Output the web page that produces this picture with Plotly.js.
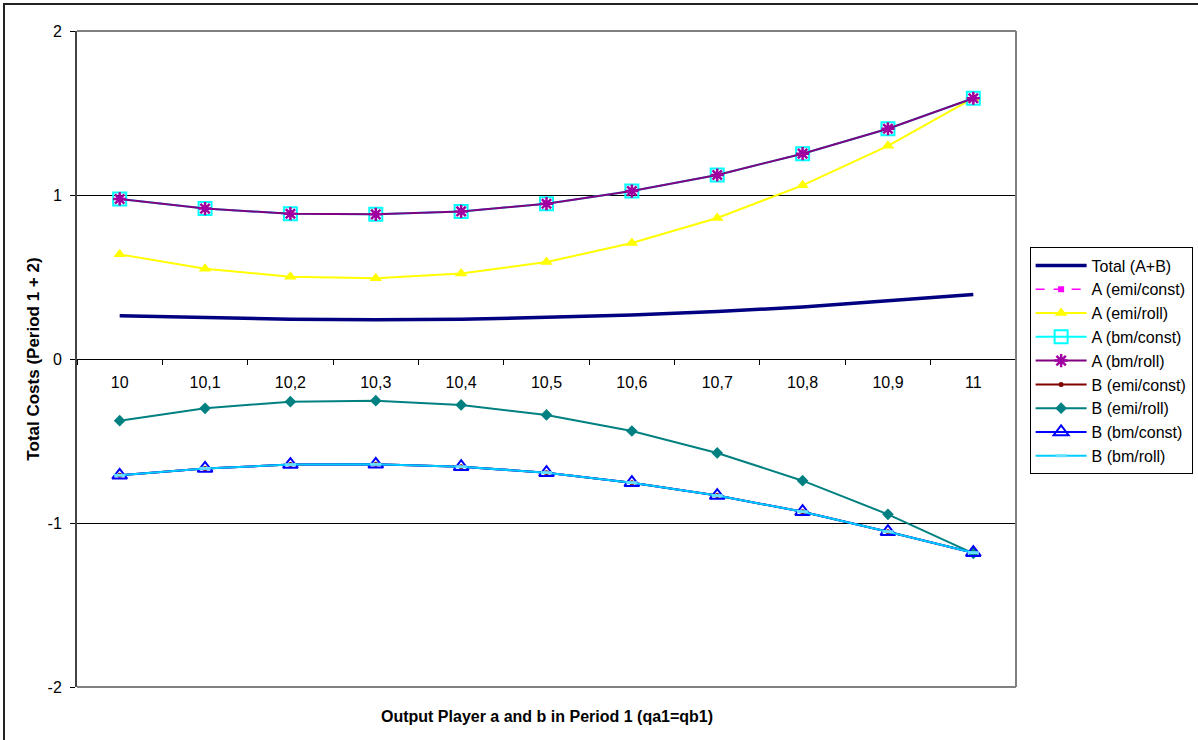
<!DOCTYPE html>
<html>
<head>
<meta charset="utf-8">
<script src="https://cdn.plot.ly/plotly-3.0.1.min.js"></script>
<style>
  body { margin: 0; background: #fff; }
  #wrap { position: relative; width: 1198px; height: 740px; }
  #chart { width: 1198px; height: 740px; }
  #frame { position: absolute; left: 3px; top: 3px; width: 1200px; height: 740px;
           border-left: 2px solid #222; border-top: 2px solid #222; pointer-events: none; }
</style>
</head>
<body>
<div id="wrap"><div id="chart"></div><div id="frame"></div></div>
<script>
const categories = ["10", "10,1", "10,2", "10,3", "10,4", "10,5", "10,6", "10,7", "10,8", "10,9", "11"];

const totalAB   = [0.264, 0.252, 0.242, 0.240, 0.242, 0.254, 0.268, 0.289, 0.317, 0.355, 0.394];
const aEmiConst = [0.976, 0.917, 0.886, 0.882, 0.900, 0.947, 1.024, 1.122, 1.252, 1.404, 1.590];
const aEmiRoll  = [0.638, 0.551, 0.502, 0.492, 0.522, 0.591, 0.707, 0.860, 1.059, 1.300, 1.590];
const aBmConst  = [0.976, 0.917, 0.886, 0.882, 0.900, 0.947, 1.024, 1.122, 1.252, 1.404, 1.590];
const aBmRoll   = [0.976, 0.917, 0.886, 0.882, 0.900, 0.947, 1.024, 1.122, 1.252, 1.404, 1.590];
const bEmiConst = [-0.709, -0.667, -0.644, -0.642, -0.657, -0.693, -0.754, -0.833, -0.931, -1.053, -1.181];
const bEmiRoll  = [-0.376, -0.301, -0.260, -0.254, -0.280, -0.341, -0.439, -0.573, -0.742, -0.947, -1.185];
const bBmConst  = [-0.709, -0.667, -0.644, -0.642, -0.657, -0.693, -0.754, -0.833, -0.931, -1.053, -1.181];
const bBmRoll   = [-0.709, -0.667, -0.644, -0.642, -0.657, -0.693, -0.754, -0.833, -0.931, -1.053, -1.181];

const yTicks = [-2, -1, 0, 1, 2];

function tr(name, y, line, marker, mode) {
  return { type: 'scatter', mode: mode || 'lines+markers', name: name, x: categories, y: y,
           line: line, marker: marker, legendgroup: name, cliponaxis: false };
}

const data = [
  tr('Total (A+B)', totalAB, {color: '#000080', width: 3.5}, {size: 1}, 'lines'),
  tr('A (emi/const)', aEmiConst, {color: '#ff00ff', width: 1.5, dash: 'dash'}, {symbol: 'square', size: 6, color: '#ff00ff'}),
  tr('A (emi/roll)', aEmiRoll, {color: '#ffff00', width: 2}, {symbol: 'triangle-up', size: 11, color: '#ffff00'}),
  tr('A (bm/const)', aBmConst, {color: '#00ffff', width: 2}, {symbol: 'square-open', size: 13, color: '#00ffff', line: {color: '#00ffff', width: 2}}),
  tr('A (bm/roll)', aBmRoll, {color: '#800080', width: 2}, {symbol: 'asterisk-open', size: 11, color: '#a000a0', line: {color: '#990099', width: 2.5}}),
  tr('B (emi/const)', bEmiConst, {color: '#800000', width: 2}, {symbol: 'circle', size: 5, color: '#800000'}),
  tr('B (emi/roll)', bEmiRoll, {color: '#008080', width: 2}, {symbol: 'diamond', size: 9, color: '#008080'}),
  tr('B (bm/const)', bBmConst, {color: '#0000ff', width: 2}, {symbol: 'triangle-up-open', size: 13, color: '#0000ff', line: {color: '#0000ff', width: 2}}),
  tr('B (bm/roll)', bBmRoll, {color: '#00ccff', width: 2}, {symbol: 'line-ew-open', size: 8, color: '#66e0ff', line: {color: '#66e0ff', width: 3}})
];

const FAM = 'Liberation Sans, Arial, sans-serif';

const layout = {
  width: 1198, height: 740,
  margin: {l: 77, r: 182, t: 31, b: 53, autoexpand: false},
  paper_bgcolor: '#fff', plot_bgcolor: '#fff',
  font: {family: FAM, size: 16, color: '#000'},
  showlegend: true,
  legend: {
    x: 1.0145, y: 0.67, xanchor: 'left', yanchor: 'top',
    bgcolor: '#fff', bordercolor: '#000', borderwidth: 1,
    font: {family: FAM, size: 16, color: '#000'},
    tracegroupgap: 0.6, itemwidth: 51, traceorder: 'normal'
  },
  xaxis: {
    type: 'category', tickson: 'boundaries', anchor: 'free', position: 0.5,
    automargin: false,
    showline: true, linecolor: '#000', linewidth: 1,
    ticks: 'outside', ticklen: 5, tickcolor: '#000',
    showgrid: false, zeroline: false,
    tickfont: {family: FAM, size: 16},
    ticklabelstandoff: 9,
    range: [-0.5, 10.5]
  },
  yaxis: {
    range: [-2, 2], tickvals: yTicks, ticktext: yTicks.map(String),
    automargin: false,
    showline: true, linecolor: '#444', linewidth: 2,
    ticks: 'outside', ticklen: 5, tickcolor: '#000',
    showgrid: true, gridcolor: '#000', gridwidth: 1, zeroline: false,
    tickfont: {family: FAM, size: 16},
    ticklabelstandoff: 5,
    title: {text: 'Total Costs (Period 1 + 2)', font: {family: FAM, size: 17, weight: 'bold'}, standoff: 4}
  },
  annotations: [{
    text: '<b>Output Player a and b in Period 1 (qa1=qb1)</b>',
    xref: 'paper', yref: 'paper', x: 0.5, y: -0.0445, xanchor: 'center', yanchor: 'middle',
    showarrow: false, font: {family: FAM, size: 16}
  }],
  shapes: [
    {type: 'line', xref: 'paper', yref: 'paper', x0: 0, x1: 1, y0: 1, y1: 1, line: {color: '#808080', width: 2}},
    {type: 'line', xref: 'paper', yref: 'paper', x0: 0, x1: 1, y0: 0, y1: 0, line: {color: '#808080', width: 2}},
    {type: 'line', xref: 'paper', yref: 'paper', x0: 1, x1: 1, y0: 0, y1: 1, line: {color: '#808080', width: 2}}
  ]
};

Plotly.newPlot('chart', data, layout, {displayModeBar: false, staticPlot: true});
</script>
</body>
</html>
